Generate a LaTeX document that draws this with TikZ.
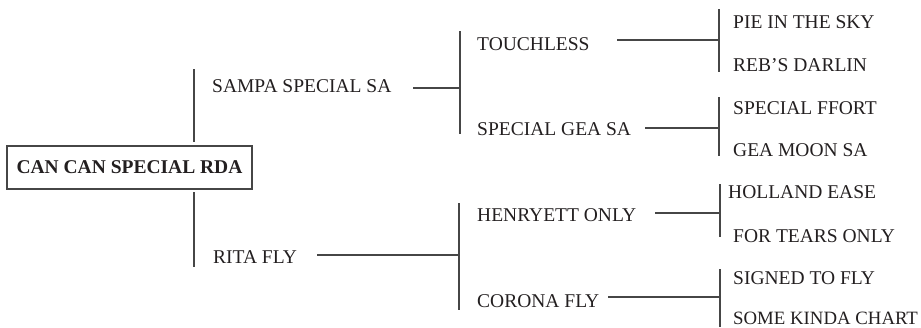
\documentclass[tikz,border=0pt]{standalone}
\usepackage{fontspec}
\setmainfont{Liberation Serif}
\usetikzlibrary{positioning, calc}
\definecolor{PedInk}{RGB}{35, 31, 32}
\definecolor{PedLine}{RGB}{70, 70, 70}

\begin{document}
\begin{tikzpicture}[
    x=1pt, y=-1pt,
    every node/.style={font=\fontsize{19.5}{22}\selectfont, text=PedInk},
    rootbox/.style={rectangle, draw=PedLine, line width=1.1pt, minimum width=245pt, minimum height=43pt, inner sep=0pt},
    horse/.style={anchor=base west, inner sep=0pt},
    link/.style={draw=PedLine, line width=1.2pt}
  ]
    \useasboundingbox (0,0) rectangle (921,327);

    % Root
    \node[rootbox] (root) at (129.5,167.5) {\textbf{CAN CAN SPECIAL RDA}};

    % Sire and dam
    \node[horse] (sampa) at (212,92) {SAMPA SPECIAL SA};
    \node[horse] (rita) at (213,263) {RITA FLY};

    % Grandparents
    \node[horse] (touch) at (477,50) {TOUCHLESS};
    \node[horse] (gea) at (477,135) {SPECIAL GEA SA};
    \node[horse] (henry) at (477,221) {HENRYETT ONLY};
    \node[horse] (corona) at (477,307) {CORONA FLY};

    % Great-grandparents
    \node[horse] (pie) at (733,28) {PIE IN THE SKY};
    \node[horse] (reb) at (733,71) {REB’S DARLIN};
    \node[horse] (ffort) at (733,114) {SPECIAL FFORT};
    \node[horse] (moon) at (733,156) {GEA MOON SA};
    \node[horse] (holland) at (728,198) {HOLLAND EASE};
    \node[horse] (tears) at (733,242) {FOR TEARS ONLY};
    \node[horse] (signed) at (733,284) {SIGNED TO FLY};
    \node[horse, font=\fontsize{18.8}{22}\selectfont] (kinda) at (733,324) {SOME KINDA CHART};

    % Bracket points
    \coordinate (r-top) at (194,69);
    \coordinate (r-up) at (194,142);
    \coordinate (r-dn) at (194,192);
    \coordinate (r-bot) at (194,267);

    \coordinate (s-in) at (413,88);
    \coordinate (s-top) at (460,31);
    \coordinate (s-bot) at (460,134);
    \coordinate (d-in) at (317,255);
    \coordinate (d-top) at (459,203);
    \coordinate (d-bot) at (459,310);

    \coordinate (t-in) at (617,40);
    \coordinate (t-top) at (719,9);
    \coordinate (t-bot) at (719,72);
    \coordinate (g-in) at (645,128);
    \coordinate (g-top) at (719,97);
    \coordinate (g-bot) at (719,156);
    \coordinate (h-in) at (655,213);
    \coordinate (h-top) at (720,184);
    \coordinate (h-bot) at (720,237);
    \coordinate (c-in) at (608,297);
    \coordinate (c-top) at (720,269);
    \coordinate (c-bot) at (720,327);

    % Connections
    \draw[link] (r-top) -- (r-up);
    \draw[link] (r-dn) -- (r-bot);
    \draw[link] (s-top) -- (s-bot);
    \draw[link] (s-in) -- (s-in -| s-top);
    \draw[link] (d-top) -- (d-bot);
    \draw[link] (d-in) -- (d-in -| d-top);
    \draw[link] (t-top) -- (t-bot);
    \draw[link] (t-in) -- (t-in -| t-top);
    \draw[link] (g-top) -- (g-bot);
    \draw[link] (g-in) -- (g-in -| g-top);
    \draw[link] (h-top) -- (h-bot);
    \draw[link] (h-in) -- (h-in -| h-top);
    \draw[link] (c-top) -- (c-bot);
    \draw[link] (c-in) -- (c-in -| c-top);
  \end{tikzpicture}
\end{document}
